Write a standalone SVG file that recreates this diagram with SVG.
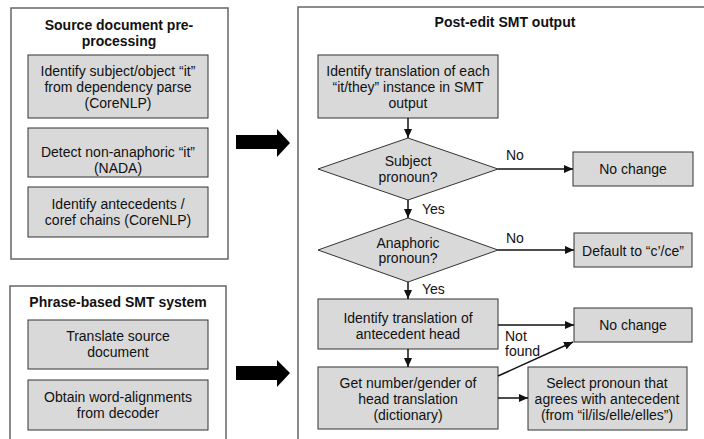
<svg xmlns="http://www.w3.org/2000/svg" width="704" height="439" viewBox="0 0 704 439">
<style>
.outer{fill:#fff;stroke:#666;stroke-width:1.5}
.box{fill:#d9d9d9;stroke:#333;stroke-width:1}
text{font-family:"Liberation Sans",Arial,sans-serif;font-size:14px;fill:#111;text-anchor:middle}
.title{font-weight:bold}
.lbl{text-anchor:start}
.edge{stroke:#111;stroke-width:1.5;fill:none}
.big{fill:#000}
</style>
<defs>
<marker id="ah" markerUnits="userSpaceOnUse" markerWidth="10" markerHeight="8" refX="9" refY="4" orient="auto">
<path d="M0,0 L9,4 L0,8 Z" fill="#111"/>
</marker>
</defs>
<rect width="704" height="439" fill="#fff"/>

<g id="src-group">
<rect class="outer" x="11" y="8" width="217" height="251"/>
<text class="title" x="119" y="30">Source document pre-</text>
<text class="title" x="119" y="46">processing</text>
</g>
<g id="n-subj">
<rect class="box" x="28" y="55" width="180" height="63"/>
<text x="118" y="76">Identify subject/object “it”</text>
<text x="118" y="92">from dependency parse</text>
<text x="118" y="108">(CoreNLP)</text>
</g>
<g id="n-nada">
<rect class="box" x="28" y="128" width="180" height="49"/>
<text x="118" y="157">Detect non-anaphoric “it”</text>
<text x="118" y="173">(NADA)</text>
</g>
<g id="n-coref">
<rect class="box" x="28" y="187" width="180" height="50"/>
<text x="118" y="209">Identify antecedents /</text>
<text x="118" y="225">coref chains (CoreNLP)</text>
</g>

<g id="smt-group">
<rect class="outer" x="10" y="286" width="216" height="170"/>
<text class="title" x="118" y="307">Phrase-based SMT system</text>
</g>
<g id="n-translate">
<rect class="box" x="28" y="320" width="180" height="49"/>
<text x="118" y="341">Translate source</text>
<text x="118" y="357">document</text>
</g>
<g id="n-align">
<rect class="box" x="28" y="380" width="180" height="50"/>
<text x="118" y="402">Obtain word-alignments</text>
<text x="118" y="418">from decoder</text>
</g>

<g id="post-group">
<rect class="outer" x="298" y="7" width="420" height="450"/>
<text class="title" x="505" y="27">Post-edit SMT output</text>
</g>
<g id="n-identify">
<rect class="box" x="318" y="55" width="180" height="63"/>
<text x="408" y="76">Identify translation of each</text>
<text x="408" y="92">“it/they” instance in SMT</text>
<text x="408" y="108">output</text>
</g>
<g id="n-subjq">
<polygon class="box" points="408,138 498,169 408,200 318,169"/>
<text x="408" y="166">Subject</text>
<text x="408" y="182">pronoun?</text>
</g>
<g id="n-nochange1">
<rect class="box" x="573" y="152" width="120" height="34"/>
<text x="633" y="174">No change</text>
</g>
<g id="n-anaq">
<polygon class="box" points="408,218 498,250 408,282 318,250"/>
<text x="408" y="248">Anaphoric</text>
<text x="408" y="263">pronoun?</text>
</g>
<g id="n-default">
<rect class="box" x="574" y="233" width="118" height="34"/>
<text x="633" y="256">Default to “c’/ce”</text>
</g>
<g id="n-antecedent">
<rect class="box" x="318" y="299" width="180" height="50"/>
<text x="408" y="323">Identify translation of</text>
<text x="408" y="339">antecedent head</text>
</g>
<g id="n-nochange2">
<rect class="box" x="574" y="308" width="118" height="34"/>
<text x="633" y="330">No change</text>
</g>
<g id="n-number">
<rect class="box" x="318" y="367" width="180" height="62"/>
<text x="408" y="388">Get number/gender of</text>
<text x="408" y="404">head translation</text>
<text x="408" y="420">(dictionary)</text>
</g>
<g id="n-select">
<rect class="box" x="528" y="367" width="159" height="63"/>
<text x="607" y="388">Select pronoun that</text>
<text x="607" y="404">agrees with antecedent</text>
<text x="607" y="420">(from “il/ils/elle/elles”)</text>
</g>

<g id="connectors">
<path class="big" d="M236,135 H277 V129 L290,143 L277,157 V149 H236 Z"/>
<path class="big" d="M236,366 H277 V360 L290,373 L277,387 V380 H236 Z"/>
<line class="edge" x1="408" y1="118" x2="408" y2="138" marker-end="url(#ah)"/>
<line class="edge" x1="498" y1="169" x2="573" y2="169" marker-end="url(#ah)"/>
<text class="lbl" x="506" y="160">No</text>
<line class="edge" x1="408" y1="200" x2="408" y2="218" marker-end="url(#ah)"/>
<text class="lbl" x="422" y="214">Yes</text>
<line class="edge" x1="498" y1="250" x2="574" y2="250" marker-end="url(#ah)"/>
<text class="lbl" x="506" y="243">No</text>
<line class="edge" x1="408" y1="282" x2="408" y2="299" marker-end="url(#ah)"/>
<text class="lbl" x="422" y="294">Yes</text>
<line class="edge" x1="408" y1="349" x2="408" y2="367" marker-end="url(#ah)"/>
<line class="edge" x1="498" y1="325" x2="574" y2="325" marker-end="url(#ah)"/>
<text class="lbl" x="505" y="341">Not</text>
<text class="lbl" x="505" y="356">found</text>
<line class="edge" x1="498" y1="376" x2="573" y2="342" marker-end="url(#ah)"/>
<line class="edge" x1="498" y1="398" x2="528" y2="398" marker-end="url(#ah)"/>
</g>
</svg>
